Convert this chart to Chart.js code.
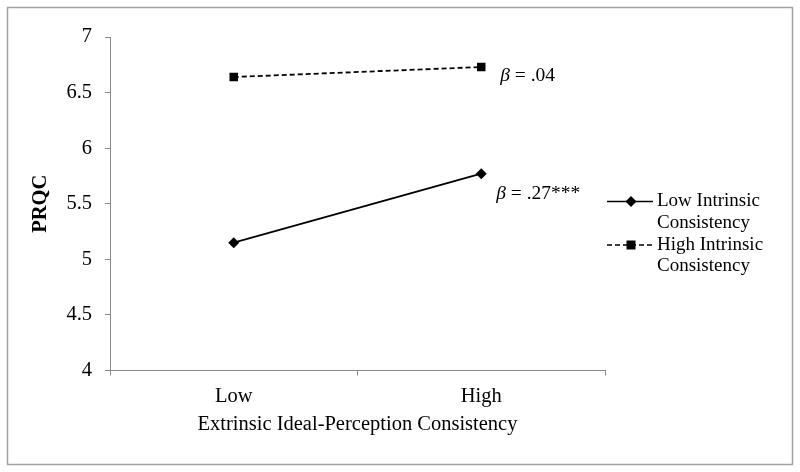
<!DOCTYPE html>
<html>
<head>
<meta charset="utf-8">
<script src="https://cdn.jsdelivr.net/npm/chart.js@4"></script>
<style>
  html, body { margin: 0; padding: 0; background: #fff; }
  #wrap { width: 800px; height: 472px; }
</style>
</head>
<body>
<div id="wrap"><canvas id="myChart" width="800" height="472"></canvas></div>
<script>
// data
var categories = ["Low", "High"];
var lowIntrinsic = [5.15, 5.77];
var highIntrinsic = [6.64, 6.73];
var yTicks = [4, 4.5, 5, 5.5, 6, 6.5, 7];
var seriesNames = [["Low Intrinsic", "Consistency"], ["High Intrinsic", "Consistency"]];
var betaLabels = ["β", " = .27***", " = .04"];

var FONT = "'Liberation Serif', 'Times New Roman', serif";

// outer frame + beta notes + two-line legend
var extras = {
  id: 'extras',
  beforeDraw: function (chart) {
    var c = chart.ctx;
    c.save();
    c.fillStyle = '#fff';
    c.fillRect(0, 0, chart.width, chart.height);
    c.strokeStyle = '#a3a3a3';
    c.lineWidth = 1.5;
    c.strokeRect(7.5, 7.5, 785, 457);
    c.restore();
  },
  afterDatasetsDraw: function (chart) {
    var c = chart.ctx;
    c.save();
    c.fillStyle = '#000';
    c.textBaseline = 'middle';
    c.textAlign = 'left';

    // beta notes, placed next to the "High" points
    function beta(dsIndex, dx, dy, rest) {
      var pt = chart.getDatasetMeta(dsIndex).data[1];
      var x = pt.x + dx, y = pt.y + dy;
      c.font = 'italic 19.5px ' + FONT;
      c.fillText(betaLabels[0], x, y);
      var w = c.measureText(betaLabels[0]).width;
      c.font = '19.5px ' + FONT;
      c.fillText(rest, x + w, y);
    }
    beta(0, 15, 20, betaLabels[1]);
    beta(1, 19, 9, betaLabels[2]);

    // legend
    var rows = [201.5, 245];
    chart.data.datasets.forEach(function (ds, i) {
      var y = rows[i];
      c.strokeStyle = ds.borderColor;
      c.lineWidth = 1.6;
      c.setLineDash(ds.borderDash || []);
      c.beginPath();
      c.moveTo(607, y);
      c.lineTo(653, y);
      c.stroke();
      c.setLineDash([]);
      c.fillStyle = '#000';
      c.beginPath();
      if (ds.pointStyle === 'rect') {
        c.rect(631 - 4.5, y - 4.5, 9, 9);
      } else {
        c.moveTo(631, y - 5.5); c.lineTo(636.5, y); c.lineTo(631, y + 5.5); c.lineTo(625.5, y);
        c.closePath();
      }
      c.fill();
      c.font = '19px ' + FONT;
      c.fillText(seriesNames[i][0], 657, y);
      c.fillText(seriesNames[i][1], 657, y + 21.5);
    });
    c.restore();
  }
};

var ctx = document.getElementById('myChart').getContext('2d');
var chart = new Chart(ctx, {
  type: 'line',
  data: {
    labels: categories,
    datasets: [{
      label: seriesNames[0].join(' '),
      data: lowIntrinsic,
      borderColor: '#000',
      backgroundColor: '#000',
      borderWidth: 1.8,
      pointStyle: 'rectRot',
      pointRadius: 5.5,
      pointBorderWidth: 0,
      tension: 0
    }, {
      label: seriesNames[1].join(' '),
      data: highIntrinsic,
      borderColor: '#000',
      backgroundColor: '#000',
      borderWidth: 1.8,
      borderDash: [5, 3],
      pointStyle: 'rect',
      pointRadius: 6,
      pointBorderWidth: 0,
      tension: 0
    }]
  },
  options: {
    responsive: false,
    animation: false,
    layout: { padding: { top: 37, right: 195, bottom: 0, left: 0 } },
    plugins: {
      legend: { display: false },
      tooltip: { enabled: false }
    },
    scales: {
      x: {
        offset: true,
        grid: { offset: true, drawOnChartArea: false, color: '#888', tickLength: 5 },
        border: { color: '#888', width: 1 },
        ticks: { color: '#000', font: { family: FONT, size: 20.5 }, padding: 9 },
        title: {
          display: true,
          text: 'Extrinsic Ideal-Perception Consistency',
          color: '#000',
          font: { family: FONT, size: 20.5 },
          padding: { top: 4, bottom: 35 }
        },
        afterFit: function (s) { s.height = 101.5; }
      },
      y: {
        min: 4,
        max: 7,
        afterBuildTicks: function (s) {
          s.ticks = yTicks.map(function (v) { return { value: v }; });
        },
        grid: { drawOnChartArea: false, color: '#888', tickLength: 5 },
        border: { color: '#888', width: 1 },
        ticks: {
          color: '#000',
          font: { family: FONT, size: 20.5 },
          padding: 13,
          callback: function (v) { return String(v); }
        },
        title: {
          display: true,
          text: 'PRQC',
          color: '#000',
          font: { family: FONT, size: 20.5, weight: 'bold' },
          padding: { top: 28.5, bottom: 0 }
        },
        afterFit: function (s) { s.width = 110; }
      }
    }
  },
  plugins: [extras]
});
</script>
</body>
</html>
